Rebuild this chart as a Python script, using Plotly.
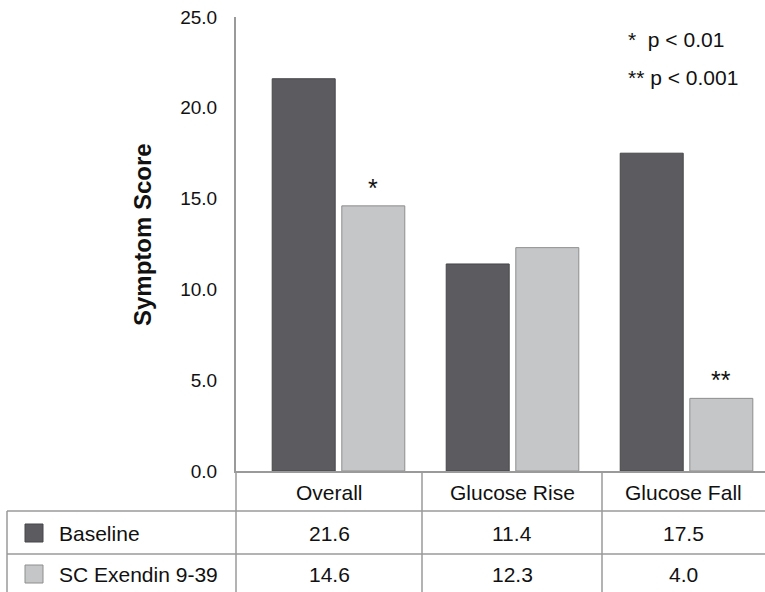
import plotly.graph_objects as go

# ---- data ----
categories = ["Overall", "Glucose Rise", "Glucose Fall"]
series_names = ["Baseline", "SC Exendin 9-39"]
baseline = [21.6, 11.4, 17.5]
exendin = [14.6, 12.3, 4.0]
y_ticks = [0, 5, 10, 15, 20, 25]
sig_marks = ["*", "", "**"]          # significance marks above the Exendin bars
sig_legend = ["*  p < 0.01", "** p < 0.001"]

# ---- layout geometry (pixels) ----
W, H = 765, 592
L, R, T, B = 236, 0, 17, 121
PW, PH = W - L - R, H - T - B
FONT = "Liberation Sans, Arial, sans-serif"
DARK, DARK_LINE = "#5c5c60", "#47474a"
LIGHT, LIGHT_LINE = "#c5c6c8", "#8e8e8e"
GRID = "#9a9a9a"

def px(x):
    return (x - L) / PW

def py(y):
    return (H - B - y) / PH

xs = list(range(len(categories)))
fig = go.Figure()
fig.add_trace(go.Bar(x=xs, y=baseline, name=series_names[0], width=0.362, offset=-0.378,
                     marker=dict(color=DARK, line=dict(color=DARK_LINE, width=1))))
fig.add_trace(go.Bar(x=xs, y=exendin, name=series_names[1], width=0.362, offset=0.022,
                     marker=dict(color=LIGHT, line=dict(color=LIGHT_LINE, width=1))))

shapes = []
annotations = []

# significance stars
for i, m in enumerate(sig_marks):
    if m:
        annotations.append(dict(x=i + 0.022 + 0.181, y=exendin[i], xref="x", yref="y",
                                text=m, showarrow=False, xanchor="center", yanchor="bottom",
                                yshift=2, font=dict(family=FONT, size=25, color="#111")))

# p-value legend
for k, t in enumerate(sig_legend):
    annotations.append(dict(x=px(626), y=py(39 + k * 38), xref="paper", yref="paper",
                            text=t, showarrow=False, xanchor="left", yanchor="middle",
                            font=dict(family=FONT, size=21, color="#111")))

# y-axis title
annotations.append(dict(x=px(143), y=py(235), xref="paper", yref="paper",
                        text="<b>Symptom Score</b>", textangle=-90, showarrow=False,
                        xanchor="center", yanchor="middle",
                        font=dict(family=FONT, size=24, color="#111")))

# ---- data table below ----
col_edges = [236, 422, 602, 765]
row_lines = [511, 554]
header_y, row_ys = 492, [533, 574]
line = dict(color=GRID, width=1.5)
for xe in col_edges[:-1]:
    shapes.append(dict(type="line", xref="paper", yref="paper", x0=px(xe), x1=px(xe),
                       y0=py(471), y1=py(H), line=line))
for yl in row_lines:
    shapes.append(dict(type="line", xref="paper", yref="paper", x0=px(7), x1=px(W),
                       y0=py(yl), y1=py(yl), line=line))
shapes.append(dict(type="line", xref="paper", yref="paper", x0=px(7), x1=px(7),
                   y0=py(row_lines[0]), y1=py(H), line=line))

cell_font = dict(family=FONT, size=21, color="#111")
for j, c in enumerate(categories):
    cx = (col_edges[j] + col_edges[j + 1]) / 2
    annotations.append(dict(x=px(cx), y=py(header_y), xref="paper", yref="paper", text=c,
                            showarrow=False, xanchor="center", yanchor="middle",
                            font=cell_font))
    for r, vals in enumerate([baseline, exendin]):
        annotations.append(dict(x=px(cx), y=py(row_ys[r]), xref="paper", yref="paper",
                                text=f"{vals[j]:.1f}", showarrow=False,
                                xanchor="center", yanchor="middle", font=cell_font))

for r, (nm, fc, lc) in enumerate([(series_names[0], DARK, DARK_LINE),
                                   (series_names[1], LIGHT, LIGHT_LINE)]):
    yc = row_ys[r]
    shapes.append(dict(type="rect", xref="paper", yref="paper", x0=px(25), x1=px(43),
                       y0=py(yc + 9), y1=py(yc - 9), fillcolor=fc, line=dict(color=lc, width=1)))
    annotations.append(dict(x=px(57), y=py(yc), xref="paper", yref="paper", text=nm,
                            showarrow=False, xanchor="left", yanchor="middle",
                            font=cell_font))

fig.update_layout(
    width=W, height=H,
    margin=dict(l=L, r=R, t=T, b=B, pad=0),
    paper_bgcolor="white", plot_bgcolor="white",
    showlegend=False,
    barmode="overlay",
    shapes=shapes, annotations=annotations,
    xaxis=dict(range=[-0.586, 2.454], showticklabels=False, ticks="", showgrid=False,
               zeroline=False, showline=True, linecolor=GRID, linewidth=2, fixedrange=True),
    yaxis=dict(range=[0, 25], tickvals=y_ticks, tickformat=".1f", ticks="",
               ticklabelstandoff=13, showgrid=False, zeroline=False, showline=True,
               linecolor=GRID, linewidth=2,
               tickfont=dict(family=FONT, size=19, color="#111")),
)

fig.write_html("out.html", config={"displayModeBar": False},
               post_script="document.body.style.margin='0px';")
